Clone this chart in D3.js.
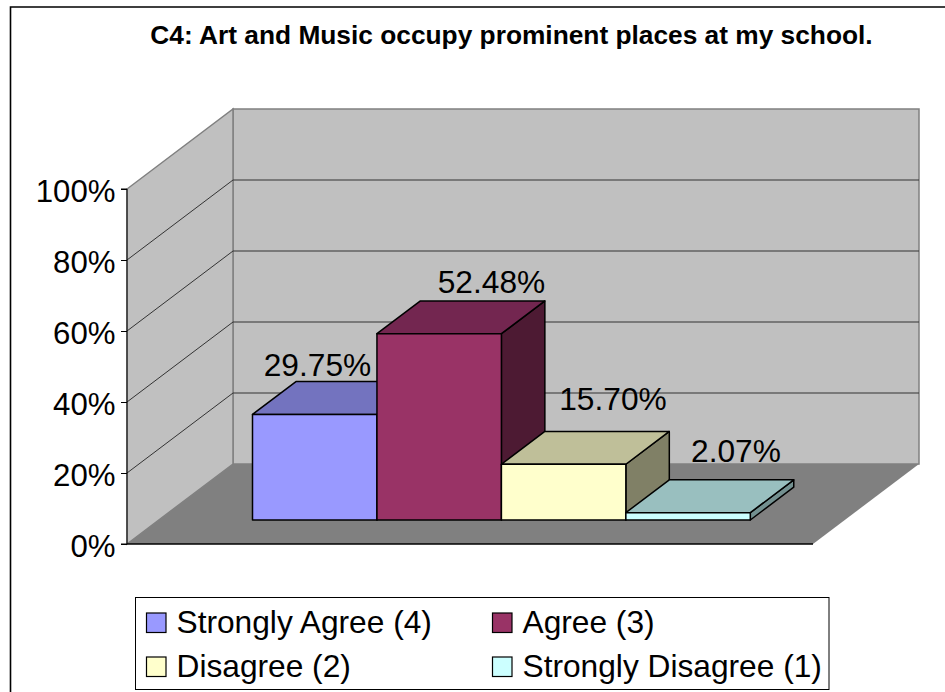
<!DOCTYPE html>
<html><head><meta charset="utf-8">
<script src="https://cdn.jsdelivr.net/npm/d3@7/dist/d3.min.js"></script>
<style>html,body{margin:0;padding:0;background:#fff}svg{display:block}text{font-family:"Liberation Sans",Arial,sans-serif;fill:#000}</style>
</head><body><svg id="c" width="945" height="692"></svg>
<script>
const title = "C4: Art and Music occupy prominent places at my school.";
const categories = ["Strongly Agree (4)", "Agree (3)", "Disagree (2)", "Strongly Disagree (1)"];
const values = [29.75, 52.48, 15.70, 2.07];
const barLabels = ["29.75%", "52.48%", "15.70%", "2.07%"];
const tickValues = [0, 20, 40, 60, 80, 100];
const colors = ["#9999ff", "#993366", "#ffffcc", "#ccffff"];
const topColors = ["#7373bf", "#732650", "#bfbf99", "#99bfbf"];
const sideColors = ["#4d4d80", "#4d1a33", "#808066", "#739090"];

const svg = d3.select("#c");
const x = d3.scaleBand().domain(categories).range([220.7, 718.5]);
const y = d3.scaleLinear().domain([0, 100]).range([544, 189]);
const dx = d3.scaleLinear().domain([0, 1]).range([0, 106]);
const dy = d3.scaleLinear().domain([0, 1]).range([0, -80]);
const x0 = 127, x1 = 813;
const pt = (px, v, d) => [px + dx(d), y(v) + dy(d)];
const poly = pts => "M" + pts.map(p => p.join(",")).join("L") + "Z";

// frame: only the top and left edges are inside the picture
svg.append("path").attr("d", "M10.5,692V7H945").attr("fill", "none").attr("stroke", "#000").attr("stroke-width", 1.6);

// title
svg.append("text").attr("x", 511.5).attr("y", 44).attr("text-anchor", "middle")
  .attr("font-size", 26.3).attr("font-weight", "bold").text(title);

// walls and floor
svg.append("path").attr("d", poly([pt(x0,0,1), pt(x1,0,1), pt(x1,100,1), pt(x0,100,1)]))
  .attr("fill", "#c0c0c0").attr("stroke", "#808080").attr("stroke-width", 1.5);
svg.append("path").attr("d", poly([pt(x0,0,0), pt(x0,0,1), pt(x0,100,1), pt(x0,100,0)]))
  .attr("fill", "#c0c0c0").attr("stroke", "#808080").attr("stroke-width", 1.5);
svg.append("path").attr("d", poly([pt(x0,0,0), pt(x1,0,0), pt(x1,0,1), pt(x0,0,1)]))
  .attr("fill", "#808080").attr("stroke", "none");

// gridlines
const lineGen = d3.line();
tickValues.filter(t => t > 0 && t < 100).forEach(t => {
  svg.append("path").attr("fill", "none").attr("stroke", "#333").attr("stroke-width", 1)
    .attr("d", lineGen([pt(x0,t,0), pt(x0,t,1), pt(x1,t,1)]));
});

// bars
const dF = 0.3, dB = 0.71;
categories.forEach((c, i) => {
  const l = x(c), r = l + x.bandwidth(), v = values[i];
  const g = svg.append("g").attr("stroke", "#000").attr("stroke-width", 1.5).attr("stroke-linejoin", "round");
  g.append("path").attr("fill", sideColors[i]).attr("d", poly([pt(r,0,dF), pt(r,0,dB), pt(r,v,dB), pt(r,v,dF)]));
  g.append("path").attr("fill", topColors[i]).attr("d", poly([pt(l,v,dF), pt(r,v,dF), pt(r,v,dB), pt(l,v,dB)]));
  g.append("path").attr("fill", colors[i]).attr("d", poly([pt(l,0,dF), pt(r,0,dF), pt(r,v,dF), pt(l,v,dF)]));
});

// axis
const axis = d3.axisLeft(y).tickValues(tickValues).tickFormat(d => d + "%").tickSize(6).tickPadding(5.5);
const ag = svg.append("g").attr("transform", `translate(${x0},0)`).call(axis);
ag.selectAll("line,path").attr("stroke", "#000").attr("stroke-width", 1);
ag.select(".domain").attr("d", `M-6,${y(100)}H0V${y(0)}H-6`);
ag.selectAll("text").attr("font-size", 31.2).attr("font-family", '"Liberation Sans"').attr("fill", "#000").attr("dy", "12px");
svg.append("line").attr("x1", x0).attr("x2", x1).attr("y1", y(0)).attr("y2", y(0)).attr("stroke", "#000").attr("stroke-width", 1.5);

// data labels
const labelPos = [[317.5, 375.5], [491.5, 293], [613, 410], [736, 462]];
categories.forEach((c, i) => {
  svg.append("text").attr("x", labelPos[i][0]).attr("y", labelPos[i][1]).attr("text-anchor", "middle")
    .attr("font-size", 31.7).text(barLabels[i]);
});

// legend
const lg = svg.append("g");
lg.append("rect").attr("x", 135.5).attr("y", 597.5).attr("width", 693.5).attr("height", 92)
  .attr("fill", "#fff").attr("stroke", "#000").attr("stroke-width", 1);
const legendPos = [[146.5, 623], [492.5, 623], [146.5, 667], [492.5, 667]];
categories.forEach((c, i) => {
  lg.append("rect").attr("x", legendPos[i][0]).attr("y", legendPos[i][1]-10).attr("width", 19.5).attr("height", 19.5)
    .attr("fill", colors[i]).attr("stroke", "#000").attr("stroke-width", 1.2);
  lg.append("text").attr("x", legendPos[i][0]+30).attr("y", legendPos[i][1]+9.5).attr("font-size", 31.7).text(c);
});
</script></body></html>
